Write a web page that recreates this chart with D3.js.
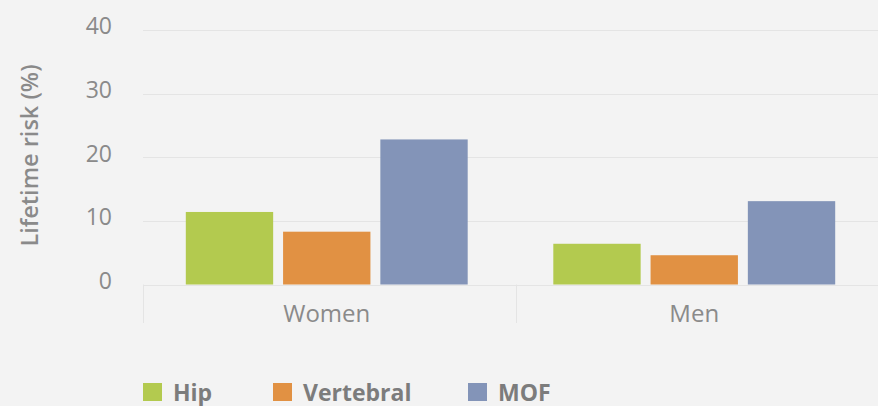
<!DOCTYPE html>
<html><head><meta charset="utf-8">
<script src="https://cdn.jsdelivr.net/npm/d3@7"></script>
<style>
html,body{margin:0;padding:0;background:#f3f3f3;}
svg{display:block;font-family:"Open Sans",sans-serif;}
</style></head>
<body><svg id="c" width="878" height="406"></svg>
<script>
const categories = ["Women", "Men"];
const seriesNames = ["Hip", "Vertebral", "MOF"];
const hip = [11.4, 6.4];
const vertebral = [8.3, 4.6];
const mof = [22.8, 13.1];
const yTicks = [0, 10, 20, 30, 40];
const colors = ["#b3ca4f", "#e19143", "#8394b8"];

const svg = d3.select("#c");
const plot = {left: 143, right: 878, top: 30, bottom: 284.5};

const x = d3.scaleBand().domain(categories).range([plot.left, plot.right]).paddingInner(0).paddingOuter(0);
// axis tick boundaries (category separators)
const xAxisBand = d3.scaleBand().domain(categories).range([plot.left, 889]);
const x1 = d3.scaleBand().domain(seriesNames).range([0, x.bandwidth()]).paddingInner(0.102).paddingOuter(0.44);
const y = d3.scaleLinear().domain([0, 40]).range([plot.bottom, plot.top]);

// gridlines
svg.append("g").selectAll("line").data(yTicks).join("line")
  .attr("x1", plot.left).attr("x2", plot.right)
  .attr("y1", d => Math.round(y(d)) + 0.5).attr("y2", d => Math.round(y(d)) + 0.5)
  .attr("stroke", "#e4e4e4").attr("stroke-width", 1);

// y tick labels
svg.append("g").selectAll("text").data(yTicks).join("text")
  .attr("x", 112).attr("y", d => y(d) + 4.3)
  .attr("text-anchor", "end").attr("font-size", 23).attr("fill", "#8a8a8a")
  .text(d => d);

// y title
svg.append("text").attr("transform", "translate(38,155.5) rotate(-90)")
  .attr("text-anchor", "middle").attr("font-size", 23.5).attr("font-weight", 600)
  .attr("fill", "#8a8a8a").text("Lifetime risk (%)");

// x axis ticks
svg.append("g").selectAll("line").data(categories).join("line")
  .attr("x1", d => Math.round(xAxisBand(d)) + 0.5).attr("x2", d => Math.round(xAxisBand(d)) + 0.5)
  .attr("y1", plot.bottom).attr("y2", 323)
  .attr("stroke", "#e4e4e4");

svg.append("g").selectAll("text").data(categories).join("text")
  .attr("x", d => x(d) + x.bandwidth() / 2).attr("y", 322)
  .attr("text-anchor", "middle").attr("font-size", 24).attr("fill", "#8a8a8a")
  .text(d => d);

// bars
const seriesVals = [hip, vertebral, mof];
const groups = svg.append("g").selectAll("g").data(categories).join("g")
  .attr("transform", d => `translate(${x(d)},0)`);
groups.selectAll("rect").data((c, ci) => seriesNames.map((s, si) => ({s, si, v: seriesVals[si][ci]})))
  .join("rect")
  .attr("x", d => x1(d.s)).attr("width", x1.bandwidth())
  .attr("y", d => y(d.v)).attr("height", d => y(0) - y(d.v))
  .attr("fill", d => colors[d.si]);

// legend
const legendX = [143, 273, 468];
const lg = svg.append("g").selectAll("g").data(seriesNames).join("g")
  .attr("transform", (d, i) => `translate(${legendX[i]},383)`);
lg.append("rect").attr("width", 19).attr("height", 18).attr("fill", (d, i) => colors[i]);
lg.append("text").attr("x", 30).attr("y", 18).attr("font-size", 23).attr("font-weight", 700)
  .attr("fill", "#7c7c7c").text(d => d);
</script></body></html>
